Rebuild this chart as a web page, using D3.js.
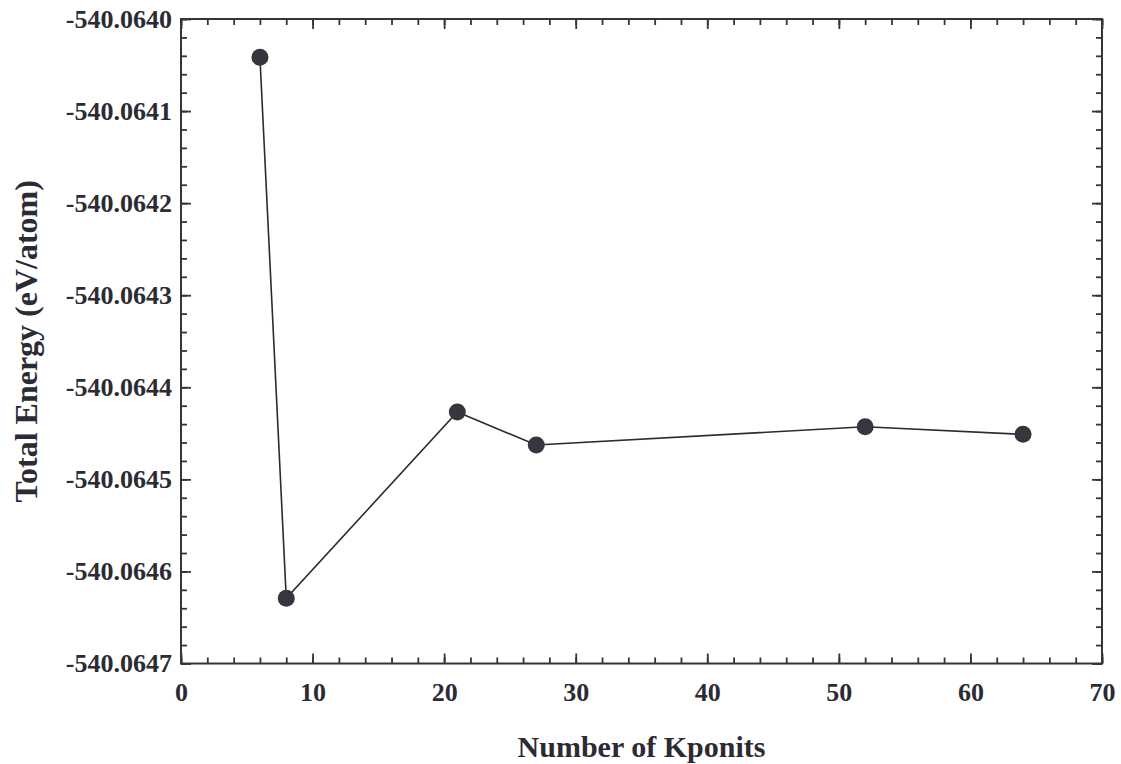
<!DOCTYPE html>
<html>
<head>
<meta charset="utf-8">
<script src="https://cdn.jsdelivr.net/npm/d3@7"></script>
<style>
  html, body { margin: 0; padding: 0; background: #fff; }
  svg { display: block; }
  text { font-family: "Liberation Serif", "Times New Roman", serif; font-weight: bold; fill: #2b2b33; }
</style>
</head>
<body>
<svg id="chart" width="1121" height="764"></svg>
<script>
// Data
const kpoints = [6, 8, 21, 27, 52, 64];
const energy = [-540.0640416, -540.0646292, -540.0644268, -540.0644627, -540.0644428, -540.0644511];
const xTicks = [0, 10, 20, 30, 40, 50, 60, 70];
const yTicks = [-540.0640, -540.0641, -540.0642, -540.0643, -540.0644, -540.0645, -540.0646, -540.0647];
const xTitle = "Number of Kponits";
const yTitle = "Total Energy (eV/atom)";

const W = 1121, H = 764;
const m = { left: 181, right: 1102, top: 19, bottom: 663.5 };
const ink = "#34343c";

const svg = d3.select("#chart");
const x = d3.scaleLinear().domain([0, 70]).range([m.left, m.right]);
const y = d3.scaleLinear().domain([-540.0647, -540.0640]).range([m.bottom, m.top]);

const xMinor = d3.range(0, 70.001, 2);
const yMinor = d3.range(0, 36).map(i => -540.0647 + i * 0.00002);

const fmtY = d => d.toFixed(4);

function styleAxis(g) {
  g.select(".domain").remove();
  g.selectAll("line").attr("stroke", ink).attr("stroke-width", 1.8);
}

// minor ticks (inward) on all four sides
svg.append("g").attr("transform", `translate(0,${m.bottom})`)
  .call(d3.axisBottom(x).tickValues(xMinor).tickSize(-6).tickFormat(""))
  .call(styleAxis);
svg.append("g").attr("transform", `translate(0,${m.top})`)
  .call(d3.axisTop(x).tickValues(xMinor).tickSize(-6).tickFormat(""))
  .call(styleAxis);
svg.append("g").attr("transform", `translate(${m.left},0)`)
  .call(d3.axisLeft(y).tickValues(yMinor).tickSize(-6).tickFormat(""))
  .call(styleAxis);
svg.append("g").attr("transform", `translate(${m.right},0)`)
  .call(d3.axisRight(y).tickValues(yMinor).tickSize(-6).tickFormat(""))
  .call(styleAxis);

// major ticks with labels
const gx = svg.append("g").attr("transform", `translate(0,${m.bottom})`)
  .call(d3.axisBottom(x).tickValues(xTicks).tickSize(-10).tickPadding(19).tickFormat(d3.format("d")))
  .call(styleAxis);
gx.selectAll("text").attr("font-size", 26).attr("fill", "#2b2b33")
  .attr("font-family", "Liberation Serif").attr("font-weight", "bold");

svg.append("g").attr("transform", `translate(${m.left},0)`)
  .call(d3.axisLeft(y).tickValues(yTicks).tickSize(-10).tickPadding(9).tickFormat(fmtY))
  .call(styleAxis)
  .selectAll("text").attr("font-size", 26).attr("fill", "#2b2b33")
  .attr("font-family", "Liberation Serif").attr("font-weight", "bold");

svg.append("g").attr("transform", `translate(0,${m.top})`)
  .call(d3.axisTop(x).tickValues(xTicks).tickSize(-10).tickFormat(""))
  .call(styleAxis);
svg.append("g").attr("transform", `translate(${m.right},0)`)
  .call(d3.axisRight(y).tickValues(yTicks).tickSize(-10).tickFormat(""))
  .call(styleAxis);

// frame
svg.append("rect")
  .attr("x", m.left).attr("y", m.top)
  .attr("width", m.right - m.left).attr("height", m.bottom - m.top)
  .attr("fill", "none").attr("stroke", ink).attr("stroke-width", 2);

// line
const data = kpoints.map((k, i) => ({ k, e: energy[i] }));
svg.append("path").datum(data)
  .attr("fill", "none").attr("stroke", "#2b2b33").attr("stroke-width", 1.6)
  .attr("d", d3.line().x(d => x(d.k)).y(d => y(d.e)));

svg.append("g").selectAll("circle").data(data).join("circle")
  .attr("cx", d => x(d.k)).attr("cy", d => y(d.e)).attr("r", 8.5)
  .attr("fill", "#36363e");

// titles
svg.append("text")
  .attr("x", (m.left + m.right) / 2).attr("y", 757)
  .attr("text-anchor", "middle").attr("font-size", 30)
  .text(xTitle);

svg.append("text")
  .attr("transform", `translate(37,${(m.top + m.bottom) / 2}) rotate(-90)`)
  .attr("text-anchor", "middle").attr("font-size", 32)
  .text(yTitle);
</script>
</body>
</html>
